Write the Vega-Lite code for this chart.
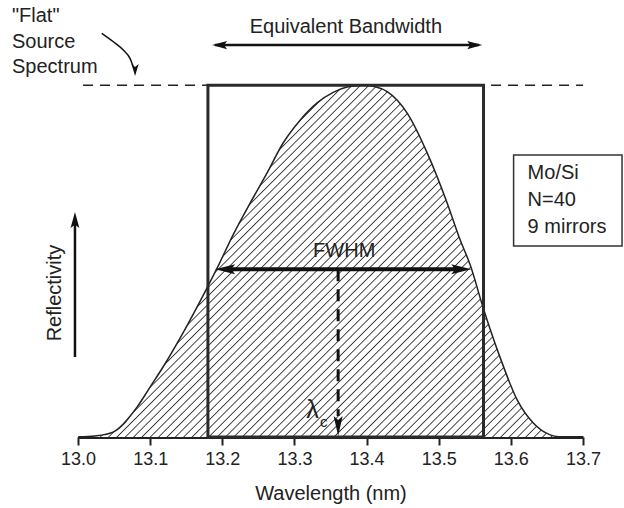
{
"$schema":"https://vega.github.io/schema/vega-lite/v6.json",
"width":505,"height":422,
"autosize":{"type":"none"},
"padding":{"left":78,"top":15,"right":41,"bottom":71},
"background":"white",
"config":{"view":{"stroke":null},"font":"Liberation Sans","text":{"font":"Liberation Sans","color":"#222"}},
"datasets":{
"curve":[{"l":13.000,"r":0.000},{"l":13.0236,"r":0.003},{"l":13.0485,"r":0.014},{"l":13.0818,"r":0.085},{"l":13.0999,"r":0.142},{"l":13.1179,"r":0.199},{"l":13.1456,"r":0.296},{"l":13.1789,"r":0.424},{"l":13.1928,"r":0.48},{"l":13.2150,"r":0.575},{"l":13.2386,"r":0.665},{"l":13.2621,"r":0.751},{"l":13.2843,"r":0.836},{"l":13.3079,"r":0.901},{"l":13.3315,"r":0.950},{"l":13.3537,"r":0.980},{"l":13.3731,"r":0.995},{"l":13.3953,"r":1.000},{"l":13.412,"r":0.996},{"l":13.4286,"r":0.982},{"l":13.4563,"r":0.921},{"l":13.4840,"r":0.808},{"l":13.5118,"r":0.665},{"l":13.5298,"r":0.560},{"l":13.5437,"r":0.489},{"l":13.5617,"r":0.367},{"l":13.5853,"r":0.225},{"l":13.6089,"r":0.105},{"l":13.6311,"r":0.040},{"l":13.6546,"r":0.006},{"l":13.6685,"r":0.000}],
"source_arrow":[{"l":13.0329,"r":1.1479},{"l":13.0490,"r":1.1240},{"l":13.0628,"r":1.1004},{"l":13.0721,"r":1.0767},{"l":13.0767,"r":1.0529},{"l":13.0791,"r":1.045}]
},
"layer":[
{"data":{"name":"curve"},
 "mark":{"type":"area","interpolate":"monotone","fill":{"gradient":"linear","x1":0,"y1":0,"x2":1.129,"y2":0.824,"stops":[
{"offset":0,"color":"#fff"},{"offset":0.007,"color":"#fff"},{"offset":0.0085,"color":"#333"},
{"offset":0.01,"color":"#fff"},{"offset":0.017,"color":"#fff"},{"offset":0.0185,"color":"#333"},
{"offset":0.02,"color":"#fff"},{"offset":0.027,"color":"#fff"},{"offset":0.0285,"color":"#333"},
{"offset":0.03,"color":"#fff"},{"offset":0.037,"color":"#fff"},{"offset":0.0385,"color":"#333"},
{"offset":0.04,"color":"#fff"},{"offset":0.047,"color":"#fff"},{"offset":0.0485,"color":"#333"},
{"offset":0.05,"color":"#fff"},{"offset":0.057,"color":"#fff"},{"offset":0.0585,"color":"#333"},
{"offset":0.06,"color":"#fff"},{"offset":0.067,"color":"#fff"},{"offset":0.0685,"color":"#333"},
{"offset":0.07,"color":"#fff"},{"offset":0.077,"color":"#fff"},{"offset":0.0785,"color":"#333"},
{"offset":0.08,"color":"#fff"},{"offset":0.087,"color":"#fff"},{"offset":0.0885,"color":"#333"},
{"offset":0.09,"color":"#fff"},{"offset":0.097,"color":"#fff"},{"offset":0.0985,"color":"#333"},
{"offset":0.10,"color":"#fff"},{"offset":0.107,"color":"#fff"},{"offset":0.1085,"color":"#333"},
{"offset":0.11,"color":"#fff"},{"offset":0.117,"color":"#fff"},{"offset":0.1185,"color":"#333"},
{"offset":0.12,"color":"#fff"},{"offset":0.127,"color":"#fff"},{"offset":0.1285,"color":"#333"},
{"offset":0.13,"color":"#fff"},{"offset":0.137,"color":"#fff"},{"offset":0.1385,"color":"#333"},
{"offset":0.14,"color":"#fff"},{"offset":0.147,"color":"#fff"},{"offset":0.1485,"color":"#333"},
{"offset":0.15,"color":"#fff"},{"offset":0.157,"color":"#fff"},{"offset":0.1585,"color":"#333"},
{"offset":0.16,"color":"#fff"},{"offset":0.167,"color":"#fff"},{"offset":0.1685,"color":"#333"},
{"offset":0.17,"color":"#fff"},{"offset":0.177,"color":"#fff"},{"offset":0.1785,"color":"#333"},
{"offset":0.18,"color":"#fff"},{"offset":0.187,"color":"#fff"},{"offset":0.1885,"color":"#333"},
{"offset":0.19,"color":"#fff"},{"offset":0.197,"color":"#fff"},{"offset":0.1985,"color":"#333"},
{"offset":0.20,"color":"#fff"},{"offset":0.207,"color":"#fff"},{"offset":0.2085,"color":"#333"},
{"offset":0.21,"color":"#fff"},{"offset":0.217,"color":"#fff"},{"offset":0.2185,"color":"#333"},
{"offset":0.22,"color":"#fff"},{"offset":0.227,"color":"#fff"},{"offset":0.2285,"color":"#333"},
{"offset":0.23,"color":"#fff"},{"offset":0.237,"color":"#fff"},{"offset":0.2385,"color":"#333"},
{"offset":0.24,"color":"#fff"},{"offset":0.247,"color":"#fff"},{"offset":0.2485,"color":"#333"},
{"offset":0.25,"color":"#fff"},{"offset":0.257,"color":"#fff"},{"offset":0.2585,"color":"#333"},
{"offset":0.26,"color":"#fff"},{"offset":0.267,"color":"#fff"},{"offset":0.2685,"color":"#333"},
{"offset":0.27,"color":"#fff"},{"offset":0.277,"color":"#fff"},{"offset":0.2785,"color":"#333"},
{"offset":0.28,"color":"#fff"},{"offset":0.287,"color":"#fff"},{"offset":0.2885,"color":"#333"},
{"offset":0.29,"color":"#fff"},{"offset":0.297,"color":"#fff"},{"offset":0.2985,"color":"#333"},
{"offset":0.30,"color":"#fff"},{"offset":0.307,"color":"#fff"},{"offset":0.3085,"color":"#333"},
{"offset":0.31,"color":"#fff"},{"offset":0.317,"color":"#fff"},{"offset":0.3185,"color":"#333"},
{"offset":0.32,"color":"#fff"},{"offset":0.327,"color":"#fff"},{"offset":0.3285,"color":"#333"},
{"offset":0.33,"color":"#fff"},{"offset":0.337,"color":"#fff"},{"offset":0.3385,"color":"#333"},
{"offset":0.34,"color":"#fff"},{"offset":0.347,"color":"#fff"},{"offset":0.3485,"color":"#333"},
{"offset":0.35,"color":"#fff"},{"offset":0.357,"color":"#fff"},{"offset":0.3585,"color":"#333"},
{"offset":0.36,"color":"#fff"},{"offset":0.367,"color":"#fff"},{"offset":0.3685,"color":"#333"},
{"offset":0.37,"color":"#fff"},{"offset":0.377,"color":"#fff"},{"offset":0.3785,"color":"#333"},
{"offset":0.38,"color":"#fff"},{"offset":0.387,"color":"#fff"},{"offset":0.3885,"color":"#333"},
{"offset":0.39,"color":"#fff"},{"offset":0.397,"color":"#fff"},{"offset":0.3985,"color":"#333"},
{"offset":0.40,"color":"#fff"},{"offset":0.407,"color":"#fff"},{"offset":0.4085,"color":"#333"},
{"offset":0.41,"color":"#fff"},{"offset":0.417,"color":"#fff"},{"offset":0.4185,"color":"#333"},
{"offset":0.42,"color":"#fff"},{"offset":0.427,"color":"#fff"},{"offset":0.4285,"color":"#333"},
{"offset":0.43,"color":"#fff"},{"offset":0.437,"color":"#fff"},{"offset":0.4385,"color":"#333"},
{"offset":0.44,"color":"#fff"},{"offset":0.447,"color":"#fff"},{"offset":0.4485,"color":"#333"},
{"offset":0.45,"color":"#fff"},{"offset":0.457,"color":"#fff"},{"offset":0.4585,"color":"#333"},
{"offset":0.46,"color":"#fff"},{"offset":0.467,"color":"#fff"},{"offset":0.4685,"color":"#333"},
{"offset":0.47,"color":"#fff"},{"offset":0.477,"color":"#fff"},{"offset":0.4785,"color":"#333"},
{"offset":0.48,"color":"#fff"},{"offset":0.487,"color":"#fff"},{"offset":0.4885,"color":"#333"},
{"offset":0.49,"color":"#fff"},{"offset":0.497,"color":"#fff"},{"offset":0.4985,"color":"#333"},
{"offset":0.50,"color":"#fff"},{"offset":0.507,"color":"#fff"},{"offset":0.5085,"color":"#333"},
{"offset":0.51,"color":"#fff"},{"offset":0.517,"color":"#fff"},{"offset":0.5185,"color":"#333"},
{"offset":0.52,"color":"#fff"},{"offset":0.527,"color":"#fff"},{"offset":0.5285,"color":"#333"},
{"offset":0.53,"color":"#fff"},{"offset":0.537,"color":"#fff"},{"offset":0.5385,"color":"#333"},
{"offset":0.54,"color":"#fff"},{"offset":0.547,"color":"#fff"},{"offset":0.5485,"color":"#333"},
{"offset":0.55,"color":"#fff"},{"offset":0.557,"color":"#fff"},{"offset":0.5585,"color":"#333"},
{"offset":0.56,"color":"#fff"},{"offset":0.567,"color":"#fff"},{"offset":0.5685,"color":"#333"},
{"offset":0.57,"color":"#fff"},{"offset":0.577,"color":"#fff"},{"offset":0.5785,"color":"#333"},
{"offset":0.58,"color":"#fff"},{"offset":0.587,"color":"#fff"},{"offset":0.5885,"color":"#333"},
{"offset":0.59,"color":"#fff"},{"offset":0.597,"color":"#fff"},{"offset":0.5985,"color":"#333"},
{"offset":0.60,"color":"#fff"},{"offset":0.607,"color":"#fff"},{"offset":0.6085,"color":"#333"},
{"offset":0.61,"color":"#fff"},{"offset":0.617,"color":"#fff"},{"offset":0.6185,"color":"#333"},
{"offset":0.62,"color":"#fff"},{"offset":0.627,"color":"#fff"},{"offset":0.6285,"color":"#333"},
{"offset":0.63,"color":"#fff"},{"offset":0.637,"color":"#fff"},{"offset":0.6385,"color":"#333"},
{"offset":0.64,"color":"#fff"},{"offset":0.647,"color":"#fff"},{"offset":0.6485,"color":"#333"},
{"offset":0.65,"color":"#fff"},{"offset":0.657,"color":"#fff"},{"offset":0.6585,"color":"#333"},
{"offset":0.66,"color":"#fff"},{"offset":0.667,"color":"#fff"},{"offset":0.6685,"color":"#333"},
{"offset":0.67,"color":"#fff"},{"offset":0.677,"color":"#fff"},{"offset":0.6785,"color":"#333"},
{"offset":0.68,"color":"#fff"},{"offset":0.687,"color":"#fff"},{"offset":0.6885,"color":"#333"},
{"offset":0.69,"color":"#fff"},{"offset":0.697,"color":"#fff"},{"offset":0.6985,"color":"#333"},
{"offset":0.70,"color":"#fff"},{"offset":0.707,"color":"#fff"},{"offset":0.7085,"color":"#333"},
{"offset":0.71,"color":"#fff"},{"offset":0.717,"color":"#fff"},{"offset":0.7185,"color":"#333"},
{"offset":0.72,"color":"#fff"},{"offset":0.727,"color":"#fff"},{"offset":0.7285,"color":"#333"},
{"offset":0.73,"color":"#fff"},{"offset":0.737,"color":"#fff"},{"offset":0.7385,"color":"#333"},
{"offset":0.74,"color":"#fff"},{"offset":0.747,"color":"#fff"},{"offset":0.7485,"color":"#333"},
{"offset":0.75,"color":"#fff"},{"offset":0.757,"color":"#fff"},{"offset":0.7585,"color":"#333"},
{"offset":0.76,"color":"#fff"},{"offset":0.767,"color":"#fff"},{"offset":0.7685,"color":"#333"},
{"offset":0.77,"color":"#fff"},{"offset":0.777,"color":"#fff"},{"offset":0.7785,"color":"#333"},
{"offset":0.78,"color":"#fff"},{"offset":0.787,"color":"#fff"},{"offset":0.7885,"color":"#333"},
{"offset":0.79,"color":"#fff"},{"offset":0.797,"color":"#fff"},{"offset":0.7985,"color":"#333"},
{"offset":0.80,"color":"#fff"},{"offset":0.807,"color":"#fff"},{"offset":0.8085,"color":"#333"},
{"offset":0.81,"color":"#fff"},{"offset":0.817,"color":"#fff"},{"offset":0.8185,"color":"#333"},
{"offset":0.82,"color":"#fff"},{"offset":0.827,"color":"#fff"},{"offset":0.8285,"color":"#333"},
{"offset":0.83,"color":"#fff"},{"offset":0.837,"color":"#fff"},{"offset":0.8385,"color":"#333"},
{"offset":0.84,"color":"#fff"},{"offset":0.847,"color":"#fff"},{"offset":0.8485,"color":"#333"},
{"offset":0.85,"color":"#fff"},{"offset":0.857,"color":"#fff"},{"offset":0.8585,"color":"#333"},
{"offset":0.86,"color":"#fff"},{"offset":0.867,"color":"#fff"},{"offset":0.8685,"color":"#333"},
{"offset":0.87,"color":"#fff"},{"offset":0.877,"color":"#fff"},{"offset":0.8785,"color":"#333"},
{"offset":0.88,"color":"#fff"},{"offset":0.887,"color":"#fff"},{"offset":0.8885,"color":"#333"},
{"offset":0.89,"color":"#fff"},{"offset":0.897,"color":"#fff"},{"offset":0.8985,"color":"#333"},
{"offset":0.90,"color":"#fff"},{"offset":0.907,"color":"#fff"},{"offset":0.9085,"color":"#333"},
{"offset":0.91,"color":"#fff"},{"offset":0.917,"color":"#fff"},{"offset":0.9185,"color":"#333"},
{"offset":0.92,"color":"#fff"},{"offset":0.927,"color":"#fff"},{"offset":0.9285,"color":"#333"},
{"offset":0.93,"color":"#fff"},{"offset":0.937,"color":"#fff"},{"offset":0.9385,"color":"#333"},
{"offset":0.94,"color":"#fff"},{"offset":0.947,"color":"#fff"},{"offset":0.9485,"color":"#333"},
{"offset":0.95,"color":"#fff"},{"offset":0.957,"color":"#fff"},{"offset":0.9585,"color":"#333"},
{"offset":0.96,"color":"#fff"},{"offset":0.967,"color":"#fff"},{"offset":0.9685,"color":"#333"},
{"offset":0.97,"color":"#fff"},{"offset":0.977,"color":"#fff"},{"offset":0.9785,"color":"#333"},
{"offset":0.98,"color":"#fff"},{"offset":0.987,"color":"#fff"},{"offset":0.9885,"color":"#333"},
{"offset":0.99,"color":"#fff"},{"offset":0.997,"color":"#fff"},{"offset":0.9985,"color":"#333"},
{"offset":1,"color":"#fff"}]}},
 "encoding":{
  "x":{"field":"l","type":"quantitative","scale":{"domain":[13.0,13.7],"nice":false,"zero":false},
   "axis":{"title":"Wavelength (nm)","values":[13.0,13.05,13.1,13.15,13.2,13.25,13.3,13.35,13.4,13.45,13.5,13.55,13.6,13.65,13.7],
    "labelExpr":"round(datum.value*100)%10==0 ? format(datum.value,'.1f') : ''",
    "tickSize":{"condition":{"test":"round(datum.value*100)%10!=0","value":6},"value":8},
    "tickWidth":2,"tickColor":"#222","domainColor":"#222","domainWidth":3,"grid":false,
    "labelFont":"Liberation Sans","labelFontSize":18,"labelColor":"#222","labelPadding":5,"labelOverlap":false,"labelFlush":false,"labelBound":false,
    "titleFont":"Liberation Sans","titleFontSize":20,"titleFontWeight":"normal","titleColor":"#222","titleY":62,"titleBaseline":"alphabetic"}},
  "y":{"field":"r","type":"quantitative","scale":{"domain":[0,1.2],"nice":false},"axis":null}
 }},
{"data":{"name":"curve"},
 "mark":{"type":"line","interpolate":"monotone","color":"#222","strokeWidth":1.5},
 "encoding":{"x":{"field":"l","type":"quantitative"},"y":{"field":"r","type":"quantitative","axis":null}}},
{"data":{"values":[{}]},
 "mark":{"type":"rule","color":"#222","strokeWidth":1.5,"strokeDash":[10,7]},
 "encoding":{"x":{"datum":13.007},"x2":{"datum":13.7},"y":{"datum":1.0,"axis":null}}},
{"data":{"values":[{}]},
 "mark":{"type":"rect","fill":null,"fillOpacity":0,"stroke":"#2a2a2a","strokeWidth":3},
 "encoding":{"x":{"datum":13.1801},"x2":{"datum":13.5621},"y":{"datum":0,"axis":null},"y2":{"datum":1.0}}},
{"data":{"values":[{}]},
 "mark":{"type":"rule","color":"#111","strokeWidth":2.5},
 "encoding":{"x":{"datum":13.19},"x2":{"datum":13.556},"y":{"datum":1.1146,"axis":null}}},
{"data":{"values":[{}]},
 "mark":{"type":"point","shape":"M-1,0L1,-0.55L0.6,0L1,0.55Z","filled":true,"size":225,"color":"#111","opacity":1},
 "encoding":{"x":{"datum":13.1963},"y":{"datum":1.1146,"axis":null}}},
{"data":{"values":[{}]},
 "mark":{"type":"point","shape":"M1,0L-1,-0.55L-0.6,0L-1,0.55Z","filled":true,"size":225,"color":"#111","opacity":1},
 "encoding":{"x":{"datum":13.5499},"y":{"datum":1.1146,"axis":null}}},
{"data":{"values":[{}]},
 "mark":{"type":"rule","color":"#111","strokeWidth":4},
 "encoding":{"x":{"datum":13.205},"x2":{"datum":13.53},"y":{"datum":0.4768,"axis":null}}},
{"data":{"values":[{}]},
 "mark":{"type":"point","shape":"M-1,0L1,-0.5L0.6,0L1,0.5Z","filled":true,"size":400,"color":"#111","opacity":1},
 "encoding":{"x":{"datum":13.2039},"y":{"datum":0.4768,"axis":null}}},
{"data":{"values":[{}]},
 "mark":{"type":"point","shape":"M1,0L-1,-0.5L-0.6,0L-1,0.5Z","filled":true,"size":400,"color":"#111","opacity":1},
 "encoding":{"x":{"datum":13.5312},"y":{"datum":0.4768,"axis":null}}},
{"data":{"values":[{}]},
 "mark":{"type":"rule","color":"#111","strokeWidth":3,"strokeDash":[12,8]},
 "encoding":{"x":{"datum":13.3606},"y":{"datum":0.4768,"axis":null},"y2":{"datum":0.06}}},
{"data":{"values":[{}]},
 "mark":{"type":"point","shape":"M0,1L-0.45,-1L0,-0.6L0.45,-1Z","filled":true,"size":400,"color":"#111","opacity":1},
 "encoding":{"x":{"datum":13.3606},"y":{"datum":0.0313,"axis":null}}},
{"data":{"values":[{}]},
 "mark":{"type":"rule","color":"#111","strokeWidth":2.5},
 "encoding":{"x":{"datum":12.9958},"y":{"datum":0.2275,"axis":null},"y2":{"datum":0.62}}},
{"data":{"values":[{}]},
 "mark":{"type":"point","shape":"M0,-1L-0.55,1L0,0.6L0.55,1Z","filled":true,"size":256,"color":"#111","opacity":1},
 "encoding":{"x":{"datum":12.9958},"y":{"datum":0.617,"axis":null}}},
{"data":{"name":"source_arrow"},
 "mark":{"type":"line","interpolate":"monotone","color":"#111","strokeWidth":1.5},
 "encoding":{"x":{"field":"l","type":"quantitative"},"y":{"field":"r","type":"quantitative","axis":null}}},
{"data":{"values":[{}]},
 "mark":{"type":"point","shape":"M0,1L-0.6,-1L0,-0.5L0.6,-1Z","filled":true,"size":144,"color":"#111","opacity":1},
 "encoding":{"x":{"datum":13.0791},"y":{"datum":1.0435,"axis":null}}},
{"data":{"values":[{}]},
 "mark":{"type":"rect","fill":null,"fillOpacity":0,"stroke":"#333","strokeWidth":1.5},
 "encoding":{"x":{"datum":13.6038},"x2":{"datum":13.7541},"y":{"datum":0.5431,"axis":null},"y2":{"datum":0.8018}}},
{"data":{"values":[{}]},
 "mark":{"type":"text","text":["Mo/Si","N=40","9 mirrors"],"fontSize":20,"lineHeight":26.7,"align":"left","baseline":"alphabetic","color":"#222"},
 "encoding":{"x":{"datum":13.6232},"y":{"datum":0.7327,"axis":null}}},
{"data":{"values":[{}]},
 "mark":{"type":"text","text":["\"Flat\"","Source","Spectrum"],"fontSize":20,"lineHeight":25.5,"align":"left","baseline":"alphabetic","color":"#222"},
 "encoding":{"x":{"datum":12.9085},"y":{"datum":1.18,"axis":null}}},
{"data":{"values":[{}]},
 "mark":{"type":"text","text":"Equivalent Bandwidth","fontSize":20,"align":"center","baseline":"alphabetic","color":"#222"},
 "encoding":{"x":{"datum":13.3713},"y":{"datum":1.1479,"axis":null}}},
{"data":{"values":[{}]},
 "mark":{"type":"text","text":"FWHM","fontSize":20,"align":"center","baseline":"alphabetic","color":"#222"},
 "encoding":{"x":{"datum":13.369},"y":{"datum":0.511,"axis":null}}},
{"data":{"values":[{}]},
 "mark":{"type":"text","text":"λ","fontSize":25,"align":"center","baseline":"alphabetic","color":"#222"},
 "encoding":{"x":{"datum":13.3252},"y":{"datum":0.054,"axis":null}}},
{"data":{"values":[{}]},
 "mark":{"type":"text","text":"c","fontSize":15,"align":"center","baseline":"alphabetic","color":"#222"},
 "encoding":{"x":{"datum":13.3405},"y":{"datum":0.0284,"axis":null}}},
{"data":{"values":[{}]},
 "mark":{"type":"text","text":"Reflectivity","fontSize":20,"align":"center","baseline":"alphabetic","angle":270,"color":"#222"},
 "encoding":{"x":{"datum":12.9764},"y":{"datum":0.4094,"axis":null}}}
]
}
